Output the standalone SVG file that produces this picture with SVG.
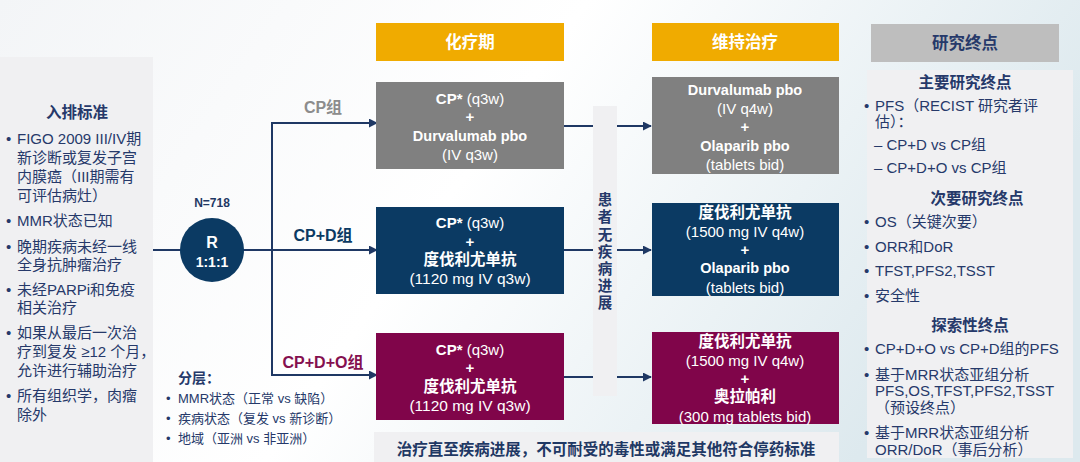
<svg xmlns="http://www.w3.org/2000/svg" width="1080" height="462" viewBox="0 0 1080 462">
<style>
text{font-family:"Liberation Sans","Noto Sans CJK SC",sans-serif;}
.t{fill:#26396a;font-size:15px;}
.tb{fill:#26396a;font-size:15.5px;font-weight:bold;}
.s{fill:#26396a;font-size:13px;}
.w{fill:#ffffff;font-size:15px;text-anchor:middle;}
.wb{font-weight:bold;}
.hd{font-size:16.5px;font-weight:bold;text-anchor:middle;}
.panel{fill:#f0f0f2;}
.ln{stroke:#1f3864;stroke-width:2;fill:none;}
</style>
<defs>
<linearGradient id="bg" x1="0" y1="0" x2="1" y2="0.3">
<stop offset="0" stop-color="#f3f5f7"/>
<stop offset="0.5" stop-color="#ffffff"/>
<stop offset="1" stop-color="#dde9ee"/>
</linearGradient>
<marker id="ar" viewBox="0 0 10 10" refX="9" refY="5" markerWidth="4.5" markerHeight="4.5" orient="auto">
<path d="M0,0 L10,5 L0,10 z" fill="#1f3864"/>
</marker>
</defs>
<rect width="1080" height="462" fill="url(#bg)"/>

<g id="inclusion">
<rect class="panel" x="0" y="57" width="153" height="405"/>
<text class="tb" x="77" y="118" text-anchor="middle">入排标准</text>
<text class="t" x="6" y="144">•</text>
<text class="t" x="17" y="144">FIGO 2009 III/IV期</text>
<text class="t" x="17" y="163">新诊断或复发子宫</text>
<text class="t" x="17" y="182">内膜癌（III期需有</text>
<text class="t" x="17" y="201">可评估病灶）</text>
<text class="t" x="6" y="226">•</text>
<text class="t" x="17" y="226">MMR状态已知</text>
<text class="t" x="6" y="252">•</text>
<text class="t" x="17" y="252">晚期疾病未经一线</text>
<text class="t" x="17" y="270">全身抗肿瘤治疗</text>
<text class="t" x="6" y="295">•</text>
<text class="t" x="17" y="295">未经PARPi和免疫</text>
<text class="t" x="17" y="313">相关治疗</text>
<text class="t" x="6" y="338">•</text>
<text class="t" x="17" y="338">如果从最后一次治</text>
<text class="t" x="17" y="357">疗到复发 ≥12 个月，</text>
<text class="t" x="17" y="376">允许进行辅助治疗</text>
<text class="t" x="6" y="401">•</text>
<text class="t" x="17" y="401">所有组织学，肉瘤</text>
<text class="t" x="17" y="420">除外</text>
</g>

<g id="connectors">
<line class="ln" x1="153" y1="250" x2="190" y2="250"/>
<line class="ln" x1="240" y1="250" x2="377" y2="250" marker-end="url(#ar)"/>
<line class="ln" x1="272" y1="123" x2="272" y2="376"/>
<line class="ln" x1="271" y1="123" x2="377" y2="123" marker-end="url(#ar)"/>
<line class="ln" x1="271" y1="375" x2="377" y2="375" marker-end="url(#ar)"/>
<line class="ln" x1="564" y1="126" x2="593" y2="126"/>
<line class="ln" x1="617" y1="126" x2="651" y2="126" marker-end="url(#ar)"/>
<line class="ln" x1="564" y1="250" x2="593" y2="250"/>
<line class="ln" x1="617" y1="250" x2="651" y2="250" marker-end="url(#ar)"/>
<line class="ln" x1="564" y1="377" x2="593" y2="377"/>
<line class="ln" x1="617" y1="377" x2="651" y2="377" marker-end="url(#ar)"/>
</g>

<g id="randomization">
<text x="212" y="207" text-anchor="middle" style="font-size:12px;font-weight:bold;fill:#1f3864">N=718</text>
<circle cx="212" cy="250" r="32" fill="#0b3a63"/>
<text class="w wb" x="212" y="248" style="font-size:16px">R</text>
<text class="w wb" x="212" y="267" style="font-size:14px">1:1:1</text>
</g>

<g id="arm-labels">
<text x="323" y="113" text-anchor="middle" style="font-size:16px;font-weight:bold;fill:#8c8c8c">CP组</text>
<text x="323" y="241" text-anchor="middle" style="font-size:16px;font-weight:bold;fill:#0b3a63">CP+D组</text>
<text x="323" y="368" text-anchor="middle" style="font-size:16px;font-weight:bold;fill:#85104f">CP+D+O组</text>
</g>

<g id="stratification">
<text x="178" y="383" style="font-size:14px;font-weight:bold;fill:#26396a">分层：</text>
<text class="s" x="166" y="403">•</text>
<text class="s" x="178" y="403">MMR状态（正常 vs 缺陷）</text>
<text class="s" x="166" y="423">•</text>
<text class="s" x="178" y="423">疾病状态（复发 vs 新诊断）</text>
<text class="s" x="166" y="443">•</text>
<text class="s" x="178" y="443">地域（亚洲 vs 非亚洲）</text>
</g>

<g id="header-chemo">
<rect x="376" y="23" width="188" height="38" fill="#f0ab00"/>
<text class="hd" x="470" y="48" fill="#ffffff">化疗期</text>
</g>
<g id="header-maint">
<rect x="652" y="23" width="187" height="38" fill="#f0ab00"/>
<text class="hd" x="745" y="48" fill="#ffffff">维持治疗</text>
</g>
<g id="header-endpoints">
<rect x="871" y="24" width="188" height="38" fill="#bebebe"/>
<text class="hd" x="965" y="49" fill="#26396a">研究终点</text>
</g>

<g id="chemo-cp">
<rect x="376" y="82" width="188" height="87" fill="#808080"/>
<text class="w" x="470" y="104"><tspan class="wb">CP*</tspan> (q3w)</text>
<text class="w wb" x="470" y="122">+</text>
<text class="w wb" x="470" y="141" style="font-size:14.5px">Durvalumab pbo</text>
<text class="w" x="470" y="160">(IV q3w)</text>
</g>
<g id="chemo-cpd">
<rect x="376" y="207" width="188" height="87" fill="#0b3a63"/>
<text class="w" x="470" y="228"><tspan class="wb">CP*</tspan> (q3w)</text>
<text class="w wb" x="470" y="247">+</text>
<text class="w wb" x="470" y="265" style="font-size:15.5px">度伐利尤单抗</text>
<text class="w" x="470" y="284" style="font-size:15.5px">(1120 mg IV q3w)</text>
</g>
<g id="chemo-cpdo">
<rect x="376" y="333" width="188" height="87" fill="#80054a"/>
<text class="w" x="470" y="355"><tspan class="wb">CP*</tspan> (q3w)</text>
<text class="w wb" x="470" y="373">+</text>
<text class="w wb" x="470" y="392" style="font-size:15.5px">度伐利尤单抗</text>
<text class="w" x="470" y="411" style="font-size:15.5px">(1120 mg IV q3w)</text>
</g>

<g id="no-progression">
<rect class="panel" x="593" y="106" width="24" height="290"/>
<g style="font-size:14.5px;font-weight:bold;fill:#26396a" text-anchor="middle">
<text x="605" y="205">患</text>
<text x="605" y="222">者</text>
<text x="605" y="240">无</text>
<text x="605" y="257">疾</text>
<text x="605" y="274">病</text>
<text x="605" y="291">进</text>
<text x="605" y="308">展</text>
</g>
</g>

<g id="maint-cp">
<rect x="652" y="77" width="187" height="97" fill="#808080"/>
<text class="w wb" x="745" y="95" style="font-size:14.5px">Durvalumab pbo</text>
<text class="w" x="745" y="114">(IV q4w)</text>
<text class="w wb" x="745" y="132">+</text>
<text class="w wb" x="745" y="151" style="font-size:14.5px">Olaparib pbo</text>
<text class="w" x="745" y="170">(tablets bid)</text>
</g>
<g id="maint-cpd">
<rect x="652" y="203" width="187" height="93" fill="#0b3a63"/>
<text class="w wb" x="745" y="218" style="font-size:15.5px">度伐利尤单抗</text>
<text class="w" x="745" y="237">(1500 mg IV q4w)</text>
<text class="w wb" x="745" y="255">+</text>
<text class="w wb" x="745" y="273" style="font-size:14.5px">Olaparib pbo</text>
<text class="w" x="745" y="293">(tablets bid)</text>
</g>
<g id="maint-cpdo">
<rect x="652" y="332" width="187" height="92" fill="#80054a"/>
<text class="w wb" x="745" y="347" style="font-size:15.5px">度伐利尤单抗</text>
<text class="w" x="745" y="366">(1500 mg IV q4w)</text>
<text class="w wb" x="745" y="384">+</text>
<text class="w wb" x="745" y="402" style="font-size:15.5px">奥拉帕利</text>
<text class="w" x="745" y="422">(300 mg tablets bid)</text>
</g>

<g id="treatment-note">
<rect class="panel" x="374" y="432" width="465" height="30"/>
<text x="606" y="455" text-anchor="middle" style="font-size:15.5px;font-weight:bold;fill:#1f3864">治疗直至疾病进展，不可耐受的毒性或满足其他符合停药标准</text>
</g>

<g id="endpoints">
<rect class="panel" x="867" y="70" width="206" height="388"/>
<text class="tb" x="965" y="88" text-anchor="middle">主要研究终点</text>
<text class="t" x="864" y="111">•</text>
<text class="t" x="875" y="111">PFS（RECIST 研究者评</text>
<text class="t" x="875" y="127">估）：</text>
<text class="t" x="874" y="150">– CP+D vs CP组</text>
<text class="t" x="874" y="173">– CP+D+O vs CP组</text>
<text class="tb" x="977" y="204" text-anchor="middle">次要研究终点</text>
<text class="t" x="864" y="227">•</text>
<text class="t" x="875" y="227">OS（关键次要）</text>
<text class="t" x="864" y="252">•</text>
<text class="t" x="875" y="252">ORR和DoR</text>
<text class="t" x="864" y="276">•</text>
<text class="t" x="875" y="276">TFST,PFS2,TSST</text>
<text class="t" x="864" y="301">•</text>
<text class="t" x="875" y="301">安全性</text>
<text class="tb" x="970" y="331" text-anchor="middle">探索性终点</text>
<text class="t" x="864" y="354">•</text>
<text class="t" x="875" y="354">CP+D+O vs CP+D组的PFS</text>
<text class="t" x="864" y="380">•</text>
<text class="t" x="875" y="380">基于MRR状态亚组分析</text>
<text class="t" x="875" y="396">PFS,OS,TFST,PFS2,TSST</text>
<text class="t" x="875" y="413">（预设终点）</text>
<text class="t" x="864" y="438">•</text>
<text class="t" x="875" y="438">基于MRR状态亚组分析</text>
<text class="t" x="875" y="455">ORR/DoR（事后分析）</text>
</g>
</svg>
